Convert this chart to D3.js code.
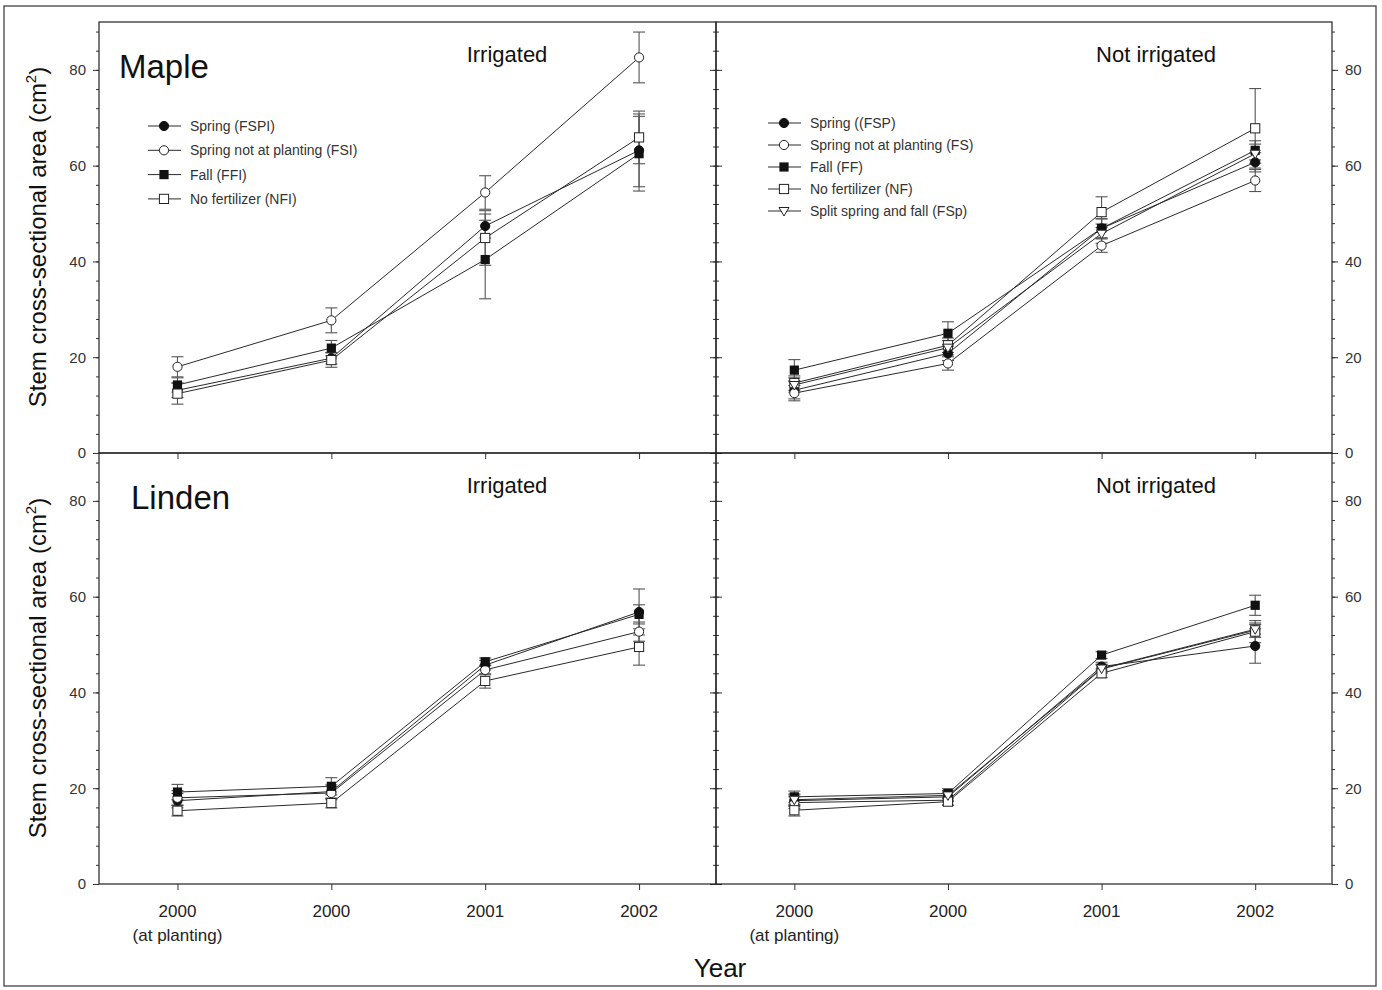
<!DOCTYPE html>
<html>
<head>
<meta charset="utf-8">
<script src="https://cdn.jsdelivr.net/npm/d3@7"></script>
<style>
  body { margin: 0; background: #fff; }
  svg { display: block; font-family: "Liberation Sans", Arial, sans-serif; }
  .tick line { stroke: #333; }
  .tick text { fill: #333; }
</style>
</head>
<body>
<svg id="chart" width="1382" height="990"></svg>
<script>
// x categories (sampling dates)
const xPos = [1, 2, 3, 4];
const xLabels = [["2000", "(at planting)"], ["2000"], ["2001"], ["2002"]];
const yMajor = [0, 20, 40, 60, 80];

// series: key, legend label, marker
const seriesIrr = ["FSP", "FS", "FF", "NF"];
const seriesNot = ["FSP", "FS", "FF", "NF", "FSp"];
const legendIrr = ["Spring (FSPI)", "Spring not at planting (FSI)", "Fall (FFI)", "No fertilizer (NFI)"];
const legendNot = ["Spring ((FSP)", "Spring not at planting (FS)", "Fall (FF)", "No fertilizer (NF)", "Split spring and fall (FSp)"];

// Maple, irrigated  (rows follow seriesIrr)
const mapleIrrMeans = [
  [13.1, 19.8, 47.4, 63.2],
  [18.0, 27.7, 54.4, 82.6],
  [14.2, 21.9, 40.4, 62.5],
  [12.4, 19.4, 44.9, 65.9]
];
const mapleIrrErr = [
  [1.5, 1.2, 2.5, 7.6],
  [2.1, 2.6, 3.5, 5.3],
  [1.5, 1.6, 8.2, 7.8],
  [2.2, 1.5, 5.7, 5.5]
];

// Maple, not irrigated (rows follow seriesNot)
const mapleNotMeans = [
  [13.1, 20.8, 46.9, 60.7],
  [12.5, 18.7, 43.3, 56.9],
  [17.3, 25.0, 46.9, 63.2],
  [14.6, 22.5, 50.3, 67.8],
  [14.2, 22.0, 45.8, 62.5]
];
const mapleNotErr = [
  [1.8, 1.5, 2.0, 2.0],
  [1.6, 1.4, 1.4, 2.3],
  [2.2, 2.4, 2.0, 2.0],
  [1.5, 1.5, 3.2, 8.3],
  [1.5, 1.5, 2.0, 2.0]
];

// Linden, irrigated
const lindenIrrMeans = [
  [17.4, 19.3, 45.7, 56.8],
  [18.0, 19.0, 44.7, 52.7],
  [19.2, 20.4, 46.4, 56.3],
  [15.3, 16.9, 42.4, 49.5]
];
const lindenIrrErr = [
  [1.5, 1.4, 1.0, 4.8],
  [1.5, 1.4, 1.0, 2.0],
  [1.6, 1.8, 0.8, 2.0],
  [1.1, 1.0, 1.5, 3.8]
];

// Linden, not irrigated
const lindenNotMeans = [
  [17.4, 18.2, 45.4, 49.7],
  [17.0, 17.5, 44.9, 53.0],
  [18.2, 18.9, 47.8, 58.2],
  [15.4, 17.2, 44.0, 52.7],
  [17.6, 18.5, 45.0, 53.2]
];
const lindenNotErr = [
  [1.2, 1.0, 0.9, 3.6],
  [1.2, 1.0, 0.9, 1.5],
  [1.2, 1.0, 0.7, 2.1],
  [1.2, 0.8, 0.9, 2.3],
  [1.2, 1.0, 0.9, 1.0]
];

const svg = d3.select("#chart");
const ink = "#222";

// outer frame
svg.append("rect").attr("x", 4).attr("y", 6).attr("width", 1372).attr("height", 980)
  .attr("fill", "none").attr("stroke", "#333").attr("stroke-width", 1.2);

const colX = [[99, 716], [716, 1332]];
const rowY = [[22, 453], [453, 884]];

const panels = [
  { col: 0, row: 0, means: mapleIrrMeans, errs: mapleIrrErr, keys: seriesIrr, title: "Irrigated", species: "Maple", legend: legendIrr },
  { col: 1, row: 0, means: mapleNotMeans, errs: mapleNotErr, keys: seriesNot, title: "Not irrigated", legend: legendNot },
  { col: 0, row: 1, means: lindenIrrMeans, errs: lindenIrrErr, keys: seriesIrr, title: "Irrigated", species: "Linden" },
  { col: 1, row: 1, means: lindenNotMeans, errs: lindenNotErr, keys: seriesNot, title: "Not irrigated" }
];

function drawMarker(g, key, cx, cy) {
  if (key === "FSP") {
    g.append("circle").attr("cx", cx).attr("cy", cy).attr("r", 4.6).attr("fill", "#111").attr("stroke", "#111");
  } else if (key === "FS") {
    g.append("circle").attr("cx", cx).attr("cy", cy).attr("r", 4.6).attr("fill", "#fff").attr("stroke", ink).attr("stroke-width", 1);
  } else if (key === "FF") {
    g.append("rect").attr("x", cx - 4.6).attr("y", cy - 4.6).attr("width", 9.2).attr("height", 9.2).attr("fill", "#111");
  } else if (key === "NF") {
    g.append("rect").attr("x", cx - 4.6).attr("y", cy - 4.6).attr("width", 9.2).attr("height", 9.2)
      .attr("fill", "#fff").attr("stroke", ink).attr("stroke-width", 1);
  } else {
    g.append("path").attr("d", `M${cx - 5},${cy - 3.5}L${cx + 5},${cy - 3.5}L${cx},${cy + 5}Z`)
      .attr("fill", "#fff").attr("stroke", ink).attr("stroke-width", 1);
  }
}

panels.forEach(function(p) {
  const [x0, x1] = colX[p.col];
  const [y0, y1] = rowY[p.row];
  const x = d3.scaleLinear().domain([0.49, 4.5]).range([x0, x1]);
  const y = d3.scaleLinear().domain([0, 90]).range([y1, y0]);
  const g = svg.append("g");
  const minor = d3.range(0, 90, 4);

  // y axes
  const leftX = x0, rightX = x1;
  if (p.col === 0) {
    g.append("g").attr("transform", `translate(${leftX},0)`)
      .call(d3.axisLeft(y).tickValues(minor).tickSize(3).tickFormat(""));
    g.append("g").attr("transform", `translate(${leftX},0)`)
      .call(d3.axisLeft(y).tickValues(yMajor).tickSize(6).tickPadding(7))
      .selectAll("text").attr("font-size", 15);
    g.append("g").attr("transform", `translate(${rightX},0)`)
      .call(d3.axisRight(y).tickValues(minor).tickSize(-3).tickFormat(""));
    g.append("g").attr("transform", `translate(${rightX},0)`)
      .call(d3.axisRight(y).tickValues(yMajor).tickSize(-6).tickFormat(""));
  } else {
    g.append("g").attr("transform", `translate(${leftX},0)`)
      .call(d3.axisLeft(y).tickValues(minor).tickSize(-3).tickFormat(""));
    g.append("g").attr("transform", `translate(${leftX},0)`)
      .call(d3.axisLeft(y).tickValues(yMajor).tickSize(-6).tickFormat(""));
    g.append("g").attr("transform", `translate(${rightX},0)`)
      .call(d3.axisRight(y).tickValues(minor).tickSize(3).tickFormat(""));
    g.append("g").attr("transform", `translate(${rightX},0)`)
      .call(d3.axisRight(y).tickValues(yMajor).tickSize(6).tickPadding(7))
      .selectAll("text").attr("font-size", 15);
  }

  // x axis
  const xa = g.append("g").attr("transform", `translate(0,${y1})`)
    .call(d3.axisBottom(x).tickValues(xPos).tickSize(6).tickFormat(""));
  if (p.row === 1) {
    xPos.forEach(function(v, i) {
      xLabels[i].forEach(function(t, j) {
        g.append("text").attr("x", x(v)).attr("y", y1 + 33 + j * 24)
          .attr("text-anchor", "middle").attr("font-size", 17).attr("fill", "#222").text(t);
      });
    });
  }
  g.selectAll(".domain").remove();

  // frame
  g.append("rect").attr("x", x0).attr("y", y0).attr("width", x1 - x0).attr("height", y1 - y0)
    .attr("fill", "none").attr("stroke", ink).attr("stroke-width", 1.2);

  // series
  const line = d3.line().x((d, i) => x(xPos[i])).y(d => y(d));
  p.keys.forEach(function(key, s) {
    const vals = p.means[s];
    g.append("path").datum(vals).attr("d", line)
      .attr("fill", "none").attr("stroke", "#2a2a2a").attr("stroke-width", 1);
  });
  p.keys.forEach(function(key, s) {
    const vals = p.means[s];
    const errs = p.errs[s];
    vals.forEach(function(v, i) {
      const cx = x(xPos[i]);
      const e = errs[i];
      const eg = g.append("g").attr("stroke", "#555").attr("stroke-width", 1.1);
      eg.append("line").attr("x1", cx).attr("x2", cx).attr("y1", y(v - e)).attr("y2", y(v + e));
      eg.append("line").attr("x1", cx - 6).attr("x2", cx + 6).attr("y1", y(v - e)).attr("y2", y(v - e));
      eg.append("line").attr("x1", cx - 6).attr("x2", cx + 6).attr("y1", y(v + e)).attr("y2", y(v + e));
    });
  });
  p.keys.forEach(function(key, s) {
    p.means[s].forEach(function(v, i) {
      drawMarker(g, key, x(xPos[i]), y(v));
    });
  });

  // panel titles
  const titleX = p.col === 0 ? 507 : 1156;
  g.append("text").attr("x", titleX).attr("y", y0 + 40).attr("text-anchor", "middle")
    .attr("font-size", 22).attr("fill", "#111").text(p.title);
  if (p.species) {
    g.append("text").attr("x", p.row === 0 ? 119 : 131).attr("y", y0 + 56)
      .attr("font-size", 33).attr("fill", "#111").text(p.species);
  }

  // legend
  if (p.legend) {
    const lx = p.col === 0 ? 148 : 768;
    const ly = p.col === 0 ? 126 : 123;
    const step = p.col === 0 ? 24.3 : 22;
    p.legend.forEach(function(lbl, i) {
      const yy = ly + i * step;
      g.append("line").attr("x1", lx).attr("x2", lx + 33).attr("y1", yy).attr("y2", yy)
        .attr("stroke", "#2a2a2a").attr("stroke-width", 1);
      drawMarker(g, p.keys[i], lx + 16, yy);
      g.append("text").attr("x", lx + 42).attr("y", yy + 5).attr("font-size", 14)
        .attr("fill", "#333").text(lbl);
    });
  }
});

// y-axis titles
[237, 668].forEach(function(cy) {
  const t = svg.append("text").attr("transform", `translate(46,${cy}) rotate(-90)`)
    .attr("text-anchor", "middle").attr("font-size", 24).attr("fill", "#111");
  t.append("tspan").text("Stem cross-sectional area (cm");
  t.append("tspan").attr("dy", -10).attr("font-size", 15).text("2");
  t.append("tspan").attr("dy", 10).text(")");
});

// x-axis title
svg.append("text").attr("x", 720).attr("y", 977).attr("text-anchor", "middle")
  .attr("font-size", 26).attr("fill", "#111").text("Year");
</script>
</body>
</html>
